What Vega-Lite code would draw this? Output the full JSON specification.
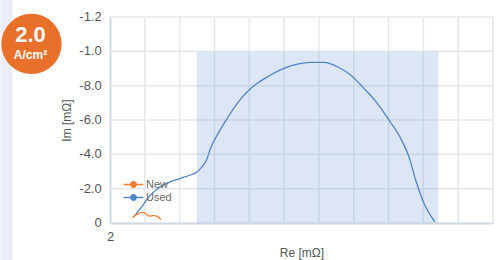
{
  "$schema": "https://vega.github.io/schema/vega-lite/v6.json",
  "width": 383,
  "height": 206,
  "autosize": {"type": "none"},
  "padding": {"left": 110, "top": 17, "right": 3, "bottom": 37},
  "background": "white",
  "config": {
    "view": {"stroke": null},
    "font": "Liberation Sans",
    "axis": {
      "labelFont": "Liberation Sans",
      "labelFontSize": 13,
      "labelColor": "#555555",
      "titleFont": "Liberation Sans",
      "titleFontSize": 12,
      "titleFontWeight": "normal",
      "titleColor": "#555555",
      "domainColor": "#d0d7e5",
      "domainWidth": 2,
      "ticks": false,
      "grid": false,
      "labelOverlap": false
    }
  },
  "datasets": {
    "curves": [
      {"series": "Used", "re": 2.684, "im": -0.367},
      {"series": "Used", "re": 2.876, "im": -0.856},
      {"series": "Used", "re": 3.164, "im": -1.631},
      {"series": "Used", "re": 3.451, "im": -2.114},
      {"series": "Used", "re": 3.739, "im": -2.405},
      {"series": "Used", "re": 4.026, "im": -2.603},
      {"series": "Used", "re": 4.313, "im": -2.796},
      {"series": "Used", "re": 4.506, "im": -2.988},
      {"series": "Used", "re": 4.649, "im": -3.279},
      {"series": "Used", "re": 4.773, "im": -3.669},
      {"series": "Used", "re": 4.888, "im": -4.351},
      {"series": "Used", "re": 5.08, "im": -5.125},
      {"series": "Used", "re": 5.368, "im": -6.098},
      {"series": "Used", "re": 5.655, "im": -6.971},
      {"series": "Used", "re": 5.943, "im": -7.647},
      {"series": "Used", "re": 6.23, "im": -8.136},
      {"series": "Used", "re": 6.612, "im": -8.62},
      {"series": "Used", "re": 6.994, "im": -9.01},
      {"series": "Used", "re": 7.379, "im": -9.26},
      {"series": "Used", "re": 7.761, "im": -9.359},
      {"series": "Used", "re": 8.144, "im": -9.359},
      {"series": "Used", "re": 8.529, "im": -9.103},
      {"series": "Used", "re": 8.911, "im": -8.62},
      {"series": "Used", "re": 9.293, "im": -7.845},
      {"series": "Used", "re": 9.678, "im": -6.971},
      {"series": "Used", "re": 10.011, "im": -5.999},
      {"series": "Used", "re": 10.348, "im": -4.933},
      {"series": "Used", "re": 10.586, "im": -3.861},
      {"series": "Used", "re": 10.779, "im": -2.504},
      {"series": "Used", "re": 11.017, "im": -1.147},
      {"series": "Used", "re": 11.325, "im": -0.076},
      {"series": "New", "re": 2.638, "im": -0.309},
      {"series": "New", "re": 2.782, "im": -0.507},
      {"series": "New", "re": 2.925, "im": -0.623},
      {"series": "New", "re": 3.02, "im": -0.565},
      {"series": "New", "re": 3.115, "im": -0.408},
      {"series": "New", "re": 3.259, "im": -0.425},
      {"series": "New", "re": 3.356, "im": -0.39},
      {"series": "New", "re": 3.46, "im": -0.204}
    ],
    "band": [{"re1": 4.49, "re2": 11.43, "im1": 0, "im2": -9.97}],
    "xgrid": [{"v": 3}, {"v": 4}, {"v": 5}, {"v": 6}, {"v": 7}, {"v": 8}, {"v": 9}, {"v": 10}, {"v": 11}, {"v": 12}, {"v": 13}],
    "ygrid": [
      {"v": 0, "label": "0"},
      {"v": -2, "label": "-2.0"},
      {"v": -4, "label": "-4.0"},
      {"v": -6, "label": "-6.0"},
      {"v": -8, "label": "-8.0"},
      {"v": -10, "label": "-1.0"},
      {"v": -12, "label": "-1.2"}
    ],
    "badge": [{"value": "2.0", "unit": "A/cm²"}]
  },
  "layer": [
    {
      "data": {"name": "xgrid"},
      "mark": {"type": "rule", "color": "#e3e7ee", "strokeWidth": 1.5},
      "encoding": {
        "x": {
          "field": "v", "type": "quantitative",
          "scale": {"domain": [2, 13], "nice": false, "zero": false},
          "axis": {
            "title": "Re [mΩ]",
            "labelExpr": "datum.value == 2 ? '2' : ''",
            "labelFlush": false,
            "labelPadding": 7,
            "titlePadding": 4
          }
        }
      }
    },
    {
      "data": {"name": "ygrid"},
      "transform": [{"filter": "datum.v != 0"}],
      "mark": {"type": "rule", "color": "#e3e7ee", "strokeWidth": 1.5},
      "encoding": {
        "y": {
          "field": "v", "type": "quantitative",
          "scale": {"domain": [0, -12], "nice": false, "zero": false},
          "axis": {
            "title": "Im [mΩ]",
            "labels": false,
            "titlePadding": 37
          }
        }
      }
    },
    {
      "data": {"name": "ygrid"},
      "mark": {"type": "text", "align": "right", "baseline": "middle", "font": "Liberation Sans", "fontSize": 13, "color": "#555555"},
      "encoding": {
        "x": {"datum": 1.762, "type": "quantitative"},
        "y": {"field": "v", "type": "quantitative"},
        "text": {"field": "label"}
      }
    },
    {
      "data": {"name": "band"},
      "mark": {"type": "rect", "color": "#789fd9", "opacity": 0.26},
      "encoding": {
        "x": {"field": "re1", "type": "quantitative"},
        "x2": {"field": "re2"},
        "y": {"field": "im1", "type": "quantitative"},
        "y2": {"field": "im2"}
      }
    },
    {
      "data": {"name": "curves"},
      "mark": {"type": "line", "strokeWidth": 1.3, "interpolate": "monotone"},
      "encoding": {
        "x": {"field": "re", "type": "quantitative"},
        "y": {"field": "im", "type": "quantitative"},
        "color": {
          "field": "series", "type": "nominal",
          "scale": {"domain": ["New", "Used"], "range": ["#f07d35", "#4f86c8"]},
          "legend": {
            "title": null,
            "orient": "none",
            "legendX": 17,
            "legendY": 161,
            "padding": 0,
            "symbolType": "M-1.8,0L1.8,0M-0.5,0A0.5,0.5,0,1,1,0.5,0A0.5,0.5,0,1,1,-0.5,0Z",
            "symbolSize": 121,
            "symbolStrokeWidth": 1.3,
            "labelFont": "Liberation Sans",
            "labelFontSize": 11,
            "labelColor": "#666666",
            "labelOffset": 6,
            "rowPadding": 1,
            "encode": {
              "symbols": {
                "update": {
                  "fill": {"scale": "color", "field": "value"},
                  "stroke": {"scale": "color", "field": "value"},
                  "opacity": {"value": 1}
                }
              }
            }
          }
        }
      }
    },
    {
      "data": {"name": "badge"},
      "mark": {"type": "rect", "color": "#eceef7"},
      "encoding": {
        "x": {"datum": -1.15, "type": "quantitative"},
        "x2": {"datum": -0.8},
        "y": {"datum": -13.2, "type": "quantitative"},
        "y2": {"datum": 2.3}
      }
    },
    {
      "data": {"name": "badge"},
      "mark": {"type": "point", "shape": "circle", "filled": true, "color": "#e8702a", "opacity": 1, "size": 3632},
      "encoding": {
        "x": {"datum": -0.255, "type": "quantitative"},
        "y": {"datum": -10.43, "type": "quantitative"}
      }
    },
    {
      "data": {"name": "badge"},
      "mark": {"type": "text", "color": "white", "fontWeight": "bold", "fontSize": 22, "font": "Liberation Sans", "baseline": "middle", "align": "center"},
      "encoding": {
        "x": {"datum": -0.284, "type": "quantitative"},
        "y": {"datum": -10.95, "type": "quantitative"},
        "text": {"field": "value"}
      }
    },
    {
      "data": {"name": "badge"},
      "mark": {"type": "text", "color": "white", "fontWeight": "bold", "fontSize": 12, "font": "Liberation Sans", "baseline": "middle", "align": "center"},
      "encoding": {
        "x": {"datum": -0.284, "type": "quantitative"},
        "y": {"datum": -9.8, "type": "quantitative"},
        "text": {"field": "unit"}
      }
    }
  ]
}
